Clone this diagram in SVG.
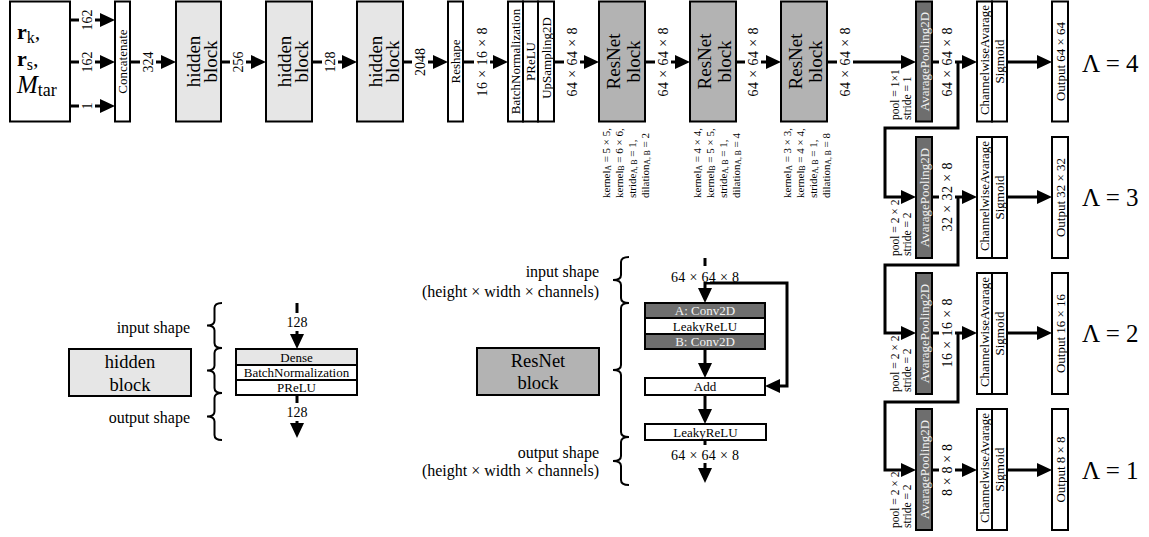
<svg xmlns="http://www.w3.org/2000/svg" width="1149" height="537" viewBox="0 0 1149 537">
<style>
.b{stroke:#000;stroke-width:2}
.w{fill:#fff}
.h{fill:#e6e6e6}
.r{fill:#b3b3b3}
.d{fill:#6e6e6e}
.ln{fill:none;stroke:#000;stroke-width:3}
.bg{fill:#fff}
.br{fill:none;stroke:#000;stroke-width:2}
text{font-family:"Liberation Serif",serif;fill:#000}
.t13{font-size:13px}
.lab{font-size:14px}
.big{font-size:19px}
.leg{font-size:16px}
.k{font-family:"Liberation Sans",sans-serif;font-size:11px}
.pl{font-size:11.5px}
.wt{fill:#f2f2f2}
.lam{font-size:25px}
</style>
<defs>
<marker id="ah" markerUnits="userSpaceOnUse" markerWidth="15" markerHeight="14" refX="0" refY="7" orient="auto"><path d="M0,0 L15,7 L0,14 Z" fill="#000"/></marker>
</defs>

<g id="connectors">
<g class="ln" marker-end="url(#ah)">
<path d="M70,20 H100"/><path d="M70,62 H100"/><path d="M70,106 H100"/>
<path d="M130,62 H161"/><path d="M221,62 H251"/><path d="M312,62 H342"/><path d="M403,62 H433"/>
<path d="M463,62 H493"/><path d="M554,62 H584"/><path d="M645,62 H675"/><path d="M736,62 H766"/><path d="M827,62 H901"/>
<path d="M932,62 H962"/><path d="M932,197 H962"/><path d="M932,333 H962"/><path d="M932,470 H962"/>
<path d="M1007,62 H1037"/><path d="M1007,197 H1037"/><path d="M1007,333 H1037"/><path d="M1007,470 H1037"/>
<path d="M958,62 V128 H885 V197 H901"/>
<path d="M958,197 V265 H885 V333 H901"/>
<path d="M958,333 V402 H885 V470 H901"/>
<path d="M297,303 V334"/><path d="M297,395 V423"/>
<path d="M705,258 V288"/><path d="M705,283 H787 V386 H780"/>
<path d="M705,349 V363"/><path d="M705,395 V409"/><path d="M705,440 V468"/>
</g>
<g class="bg">
<rect x="79" y="16" width="16" height="8"/><rect x="79" y="58" width="16" height="8"/><rect x="79" y="102" width="16" height="8"/>
<rect x="140" y="58" width="16" height="8"/><rect x="230" y="58" width="16" height="8"/><rect x="322" y="58" width="16" height="8"/>
<rect x="412" y="58" width="16" height="8"/><rect x="474" y="58" width="16" height="8"/><rect x="564" y="58" width="16" height="8"/>
<rect x="655" y="58" width="16" height="8"/><rect x="745" y="58" width="16" height="8"/><rect x="837" y="58" width="16" height="8"/>
<rect x="939" y="58" width="16" height="8"/><rect x="939" y="193" width="16" height="8"/><rect x="939" y="329" width="16" height="8"/><rect x="939" y="466" width="16" height="8"/>
<rect x="292" y="313" width="10" height="18"/><rect x="292" y="403" width="10" height="18"/>
<rect x="700" y="266" width="10" height="16"/><rect x="700" y="445" width="10" height="18"/>
</g>
<g class="lab" text-anchor="middle" dominant-baseline="central">
<text transform="translate(87,20) rotate(-90)">162</text>
<text transform="translate(87,62) rotate(-90)">162</text>
<text transform="translate(87,106) rotate(-90)">1</text>
<text transform="translate(148,62) rotate(-90)">324</text>
<text transform="translate(238,62) rotate(-90)">256</text>
<text transform="translate(330,62) rotate(-90)">128</text>
<text transform="translate(420,62) rotate(-90)">2048</text>
<text transform="translate(482,62) rotate(-90)" textLength="69" lengthAdjust="spacing">16 × 16 × 8</text>
<text transform="translate(572,62) rotate(-90)" textLength="69" lengthAdjust="spacing">64 × 64 × 8</text>
<text transform="translate(663,62) rotate(-90)" textLength="69" lengthAdjust="spacing">64 × 64 × 8</text>
<text transform="translate(753,62) rotate(-90)" textLength="69" lengthAdjust="spacing">64 × 64 × 8</text>
<text transform="translate(845,62) rotate(-90)" textLength="69" lengthAdjust="spacing">64 × 64 × 8</text>
<text transform="translate(947,62) rotate(-90)" textLength="69" lengthAdjust="spacing">64 × 64 × 8</text>
<text transform="translate(947,197) rotate(-90)" textLength="69" lengthAdjust="spacing">32 × 32 × 8</text>
<text transform="translate(947,333) rotate(-90)" textLength="69" lengthAdjust="spacing">16 × 16 × 8</text>
<text transform="translate(947,470) rotate(-90)" textLength="52" lengthAdjust="spacing">8 × 8 × 8</text>
<text x="297" y="322">128</text>
<text x="297" y="412">128</text>
<text x="705" y="277" textLength="68" lengthAdjust="spacing">64 × 64 × 8</text>
<text x="705" y="455" textLength="68" lengthAdjust="spacing">64 × 64 × 8</text>
</g>
</g>

<g id="input">
<rect class="b w" x="10" y="1.5" width="60" height="120"/>
<text x="17" y="39" font-size="22"><tspan font-weight="bold">r</tspan><tspan font-size="16" dy="4">k</tspan><tspan dy="-4">,</tspan></text>
<text x="17" y="66" font-size="22"><tspan font-weight="bold">r</tspan><tspan font-size="16" dy="4">s</tspan><tspan dy="-4">,</tspan></text>
<text x="17" y="93" font-size="25"><tspan font-style="italic">M</tspan><tspan font-size="18" dy="3">tar</tspan></text>
</g>
<g id="concatenate"><rect class="b w" x="115" y="1.5" width="15" height="120"/><text class="t13" transform="translate(122.5,61.5) rotate(-90)" text-anchor="middle" dominant-baseline="central">Concatenate</text></g>
<g id="hidden1"><rect class="b h" x="176" y="1.5" width="45" height="120"/><text class="big" transform="translate(198.5,61.5) rotate(-90)" text-anchor="middle"><tspan x="0" y="1.5">hidden</tspan><tspan x="0" y="18.5">block</tspan></text></g>
<g id="hidden2"><rect class="b h" x="266" y="1.5" width="46" height="120"/><text class="big" transform="translate(289,61.5) rotate(-90)" text-anchor="middle"><tspan x="0" y="1.5">hidden</tspan><tspan x="0" y="18.5">block</tspan></text></g>
<g id="hidden3"><rect class="b h" x="357" y="1.5" width="46" height="120"/><text class="big" transform="translate(380,61.5) rotate(-90)" text-anchor="middle"><tspan x="0" y="1.5">hidden</tspan><tspan x="0" y="18.5">block</tspan></text></g>
<g id="reshape"><rect class="b w" x="448" y="1.5" width="15" height="120"/><text class="t13" transform="translate(455.5,61.5) rotate(-90)" text-anchor="middle" dominant-baseline="central">Reshape</text></g>
<g id="bn-prelu-up">
<rect class="b w" x="508" y="1.5" width="15" height="120"/><rect class="b w" x="523" y="1.5" width="15" height="120"/><rect class="b w" x="538" y="1.5" width="16" height="120"/>
<text class="t13" transform="translate(515.5,61.5) rotate(-90)" text-anchor="middle" dominant-baseline="central">BatchNormalization</text>
<text class="t13" transform="translate(530.5,61.5) rotate(-90)" text-anchor="middle" dominant-baseline="central">PReLU</text>
<text class="t13" transform="translate(546,58) rotate(-90)" text-anchor="middle" dominant-baseline="central" font-size="14.5">UpSampling2D</text>
</g>
<g id="resnet1"><rect class="b r" x="599" y="1.5" width="46" height="120"/><text class="big" transform="translate(622,61.5) rotate(-90)" text-anchor="middle"><tspan x="0" y="-2">ResNet</tspan><tspan x="0" y="18">block</tspan></text>
<g class="k"><text transform="translate(606,198) rotate(-90)" dominant-baseline="central">kernel<tspan font-size="7.5" dy="2">A</tspan><tspan dy="-2"> = 5 × 5,</tspan></text>
<text transform="translate(619,198) rotate(-90)" dominant-baseline="central">kernel<tspan font-size="7.5" dy="2">B</tspan><tspan dy="-2"> = 6 × 6,</tspan></text>
<text transform="translate(632,198) rotate(-90)" dominant-baseline="central">stride<tspan font-size="7.5" dy="2">A, B</tspan><tspan dy="-2"> = 1,</tspan></text>
<text transform="translate(645,198) rotate(-90)" dominant-baseline="central">dilation<tspan font-size="7.5" dy="2">A, B</tspan><tspan dy="-2"> = 2</tspan></text></g></g>
<g id="resnet2"><rect class="b r" x="690" y="1.5" width="46" height="120"/><text class="big" transform="translate(713,61.5) rotate(-90)" text-anchor="middle"><tspan x="0" y="-2">ResNet</tspan><tspan x="0" y="18">block</tspan></text>
<g class="k"><text transform="translate(696.5,198) rotate(-90)" dominant-baseline="central">kernel<tspan font-size="7.5" dy="2">A</tspan><tspan dy="-2"> = 4 × 4,</tspan></text>
<text transform="translate(709.5,198) rotate(-90)" dominant-baseline="central">kernel<tspan font-size="7.5" dy="2">B</tspan><tspan dy="-2"> = 5 × 5,</tspan></text>
<text transform="translate(722.5,198) rotate(-90)" dominant-baseline="central">stride<tspan font-size="7.5" dy="2">A, B</tspan><tspan dy="-2"> = 1,</tspan></text>
<text transform="translate(735.5,198) rotate(-90)" dominant-baseline="central">dilation<tspan font-size="7.5" dy="2">A, B</tspan><tspan dy="-2"> = 4</tspan></text></g></g>
<g id="resnet3"><rect class="b r" x="781" y="1.5" width="46" height="120"/><text class="big" transform="translate(804,61.5) rotate(-90)" text-anchor="middle"><tspan x="0" y="-2">ResNet</tspan><tspan x="0" y="18">block</tspan></text>
<g class="k"><text transform="translate(787,198) rotate(-90)" dominant-baseline="central">kernel<tspan font-size="7.5" dy="2">A</tspan><tspan dy="-2"> = 3 × 3,</tspan></text>
<text transform="translate(800,198) rotate(-90)" dominant-baseline="central">kernel<tspan font-size="7.5" dy="2">B</tspan><tspan dy="-2"> = 4 × 4,</tspan></text>
<text transform="translate(813,198) rotate(-90)" dominant-baseline="central">stride<tspan font-size="7.5" dy="2">A, B</tspan><tspan dy="-2"> = 1,</tspan></text>
<text transform="translate(826,198) rotate(-90)" dominant-baseline="central">dilation<tspan font-size="7.5" dy="2">A, B</tspan><tspan dy="-2"> = 8</tspan></text></g></g>

<g id="row4">
<rect class="b d" x="916" y="1.5" width="16" height="120"/><text class="t13 wt" transform="translate(924,61.5) rotate(-90)" text-anchor="middle" dominant-baseline="central">AvaragePooling2D</text>
<text class="pl" transform="translate(895,120) rotate(-90)" dominant-baseline="central">pool = 1×1</text>
<text class="pl" transform="translate(907,120) rotate(-90)" dominant-baseline="central">stride = 1</text>
<rect class="b w" x="977" y="1.5" width="15" height="120"/><rect class="b w" x="992" y="1.5" width="15" height="120"/>
<text class="t13" transform="translate(984.5,60) rotate(-90)" text-anchor="middle" dominant-baseline="central">ChannelwiseAvarage</text>
<text class="t13" transform="translate(999.5,61.5) rotate(-90)" text-anchor="middle" dominant-baseline="central">Sigmoid</text>
<rect class="b w" x="1052" y="1.5" width="16" height="120"/><text class="t13" font-size="14" transform="translate(1060,61.5) rotate(-90)" text-anchor="middle" dominant-baseline="central">Output 64 × 64</text>
<text class="lam" x="1082" y="72">Λ = 4</text>
</g>
<g id="row3">
<rect class="b d" x="916" y="137" width="16" height="121"/><text class="t13 wt" transform="translate(924,197.5) rotate(-90)" text-anchor="middle" dominant-baseline="central">AvaragePooling2D</text>
<text class="pl" transform="translate(895,256) rotate(-90)" dominant-baseline="central">pool = 2 × 2</text>
<text class="pl" transform="translate(907,256) rotate(-90)" dominant-baseline="central">stride = 2</text>
<rect class="b w" x="977" y="137" width="15" height="121"/><rect class="b w" x="992" y="137" width="15" height="121"/>
<text class="t13" transform="translate(984.5,196) rotate(-90)" text-anchor="middle" dominant-baseline="central">ChannelwiseAvarage</text>
<text class="t13" transform="translate(999.5,197.5) rotate(-90)" text-anchor="middle" dominant-baseline="central">Sigmoid</text>
<rect class="b w" x="1052" y="137" width="16" height="121"/><text class="t13" font-size="14" transform="translate(1060,197.5) rotate(-90)" text-anchor="middle" dominant-baseline="central">Output 32 × 32</text>
<text class="lam" x="1082" y="206">Λ = 3</text>
</g>
<g id="row2">
<rect class="b d" x="916" y="273" width="16" height="121"/><text class="t13 wt" transform="translate(924,333.5) rotate(-90)" text-anchor="middle" dominant-baseline="central">AvaragePooling2D</text>
<text class="pl" transform="translate(895,392) rotate(-90)" dominant-baseline="central">pool = 2 × 2</text>
<text class="pl" transform="translate(907,392) rotate(-90)" dominant-baseline="central">stride = 2</text>
<rect class="b w" x="977" y="273" width="15" height="121"/><rect class="b w" x="992" y="273" width="15" height="121"/>
<text class="t13" transform="translate(984.5,332) rotate(-90)" text-anchor="middle" dominant-baseline="central">ChannelwiseAvarage</text>
<text class="t13" transform="translate(999.5,333.5) rotate(-90)" text-anchor="middle" dominant-baseline="central">Sigmoid</text>
<rect class="b w" x="1052" y="273" width="16" height="121"/><text class="t13" font-size="14" transform="translate(1060,333.5) rotate(-90)" text-anchor="middle" dominant-baseline="central">Output 16 × 16</text>
<text class="lam" x="1082" y="342">Λ = 2</text>
</g>
<g id="row1">
<rect class="b d" x="916" y="409" width="16" height="121"/><text class="t13 wt" transform="translate(924,469.5) rotate(-90)" text-anchor="middle" dominant-baseline="central">AvaragePooling2D</text>
<text class="pl" transform="translate(895,528) rotate(-90)" dominant-baseline="central">pool = 2 × 2</text>
<text class="pl" transform="translate(907,528) rotate(-90)" dominant-baseline="central">stride = 2</text>
<rect class="b w" x="977" y="409" width="15" height="121"/><rect class="b w" x="992" y="409" width="15" height="121"/>
<text class="t13" transform="translate(984.5,468) rotate(-90)" text-anchor="middle" dominant-baseline="central">ChannelwiseAvarage</text>
<text class="t13" transform="translate(999.5,469.5) rotate(-90)" text-anchor="middle" dominant-baseline="central">Sigmoid</text>
<rect class="b w" x="1052" y="409" width="16" height="121"/><text class="t13" font-size="14" transform="translate(1060,469.5) rotate(-90)" text-anchor="middle" dominant-baseline="central">Output 8 × 8</text>
<text class="lam" x="1082" y="479">Λ = 1</text>
</g>

<g id="legend-hidden">
<text class="leg" x="190" y="333" text-anchor="end">input shape</text>
<text class="leg" x="190" y="423" text-anchor="end">output shape</text>
<path class="br" d="M222,303 Q214.5,303 214.5,308 L214.5,320.5 Q214.5,325.5 207,325.5 Q214.5,325.5 214.5,330.5 L214.5,343 Q214.5,348 222,348"/>
<path class="br" d="M222,348 Q214.5,348 214.5,353 L214.5,365.5 Q214.5,370.5 207,370.5 Q214.5,370.5 214.5,375.5 L214.5,388 Q214.5,393 222,393"/>
<path class="br" d="M222,393 Q214.5,393 214.5,398 L214.5,411.5 Q214.5,416.5 207,416.5 Q214.5,416.5 214.5,421.5 L214.5,435 Q214.5,440 222,440"/>
<rect class="b h" x="69" y="349" width="122" height="47"/>
<text x="130" y="368" font-size="18.5" text-anchor="middle">hidden</text>
<text x="130" y="391" font-size="18.5" text-anchor="middle">block</text>
<rect class="b h" x="236" y="349" width="121" height="16"/><rect class="b w" x="236" y="365" width="121" height="15"/><rect class="b w" x="236" y="380" width="121" height="15"/>
<g class="t13" text-anchor="middle" dominant-baseline="central"><text x="296.5" y="357">Dense</text><text x="296.5" y="372.5">BatchNormalization</text><text x="296.5" y="387.5">PReLU</text></g>
</g>

<g id="legend-resnet">
<text class="leg" x="599" y="277" text-anchor="end">input shape</text>
<text class="leg" x="599" y="297" text-anchor="end">(height × width × channels)</text>
<text class="leg" x="599" y="458" text-anchor="end">output shape</text>
<text class="leg" x="599" y="476" text-anchor="end">(height × width × channels)</text>
<path class="br" d="M629,257 Q621,257 621,262 L621,275 Q621,280 613,280 Q621,280 621,285 L621,298 Q621,303 629,303"/>
<path class="br" d="M629,303 Q621,303 621,308 L621,365 Q621,370 613,370 Q621,370 621,375 L621,432 Q621,437 629,437"/>
<path class="br" d="M629,437 Q621,437 621,442 L621,456 Q621,461 613,461 Q621,461 621,466 L621,480 Q621,485 629,485"/>
<rect class="b r" x="477" y="348" width="122" height="47"/>
<text x="538" y="367" font-size="18.5" text-anchor="middle">ResNet</text>
<text x="538" y="389" font-size="18.5" text-anchor="middle">block</text>
<rect class="b d" x="645" y="303" width="120" height="15"/><rect class="b w" x="645" y="318" width="120" height="16"/><rect class="b d" x="645" y="334" width="120" height="15"/>
<rect class="b w" x="645" y="378" width="120" height="17"/>
<rect class="b w" x="645" y="424" width="121" height="16"/>
<g class="t13" text-anchor="middle" dominant-baseline="central">
<text class="wt" x="705" y="310.5">A: Conv2D</text><text x="705" y="326">LeakyReLU</text><text class="wt" x="705" y="341.5">B: Conv2D</text>
<text x="705" y="386.5">Add</text><text x="705.5" y="432">LeakyReLU</text></g>
</g>
</svg>
